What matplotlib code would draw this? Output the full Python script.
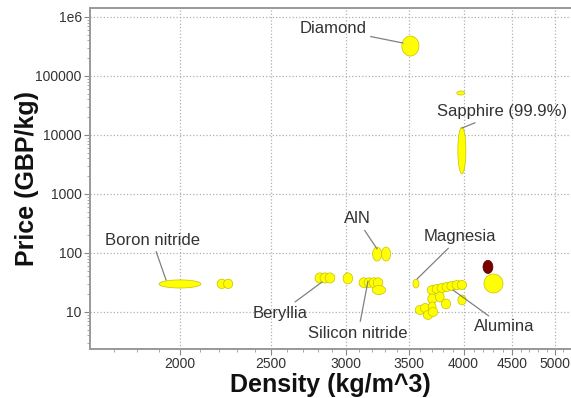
import numpy as np
import matplotlib
matplotlib.use("Agg")
import matplotlib.pyplot as plt
from matplotlib.ticker import FixedLocator, FuncFormatter, MultipleLocator, NullFormatter, LogLocator

plt.rcParams["font.family"] = ["Liberation Sans", "DejaVu Sans"]

# one record per material grade: density range (kg/m^3), price range (GBP/kg)
density_lo = [1900, 2190, 2225, 3203, 3273, 2782, 2817, 2852, 2980,
              3098, 3137, 3176, 3208, 3200, 3535, 4195, 4205,
              3440, 3935, 3945,
              3660, 3705, 3750, 3795, 3840, 3890, 3940, 3665, 3735,
              3790, 3945, 3555, 3600, 3670, 3625, 3670]
density_hi = [2105, 2240, 2275, 3274, 3346, 2850, 2885, 2920, 3050,
              3174, 3213, 3252, 3284, 3306, 3587, 4298, 4405,
              3587, 4013, 4023,
              3750, 3795, 3840, 3885, 3935, 3985, 4030, 3745, 3815,
              3875, 4025, 3640, 3685, 3740, 3710, 3755]
price_lo = [25.5, 25, 25, 73, 73, 31, 31, 31, 30,
            26, 26, 26, 26, 19.8, 25.5, 45, 21,
            218000, 47600, 2200,
            19.8, 20.6, 21.4, 22.3, 23.2, 24.1, 24.1, 13.7, 14.8,
            11.3, 13.2, 9.1, 9.8, 10.0, 7.5, 8.4]
price_hi = [35, 36, 36, 126, 126, 46, 46, 46, 46,
            38, 38, 38, 38, 28, 36, 75, 44,
            476000, 55700, 13600,
            28.1, 29.2, 30.4, 31.6, 32.9, 34.2, 34.2, 20.2, 21.9,
            16.6, 19.4, 12.9, 13.9, 14.8, 10.6, 11.9]
# records flagged as the selected material
selected = [False] * 15 + [True] + [False] * 20

# labels: (text, text position, point on bubble)
labels = [
    ("Diamond", (2907, 626000), (3450, 362000)),
    ("Sapphire (99.9%)", (4394, 24550), (3984, 13100)),
    ("Boron nitride", (1868, 166), (1933, 34.8)),
    ("AlN", (3083, 377), (3238, 117)),
    ("Magnesia", (3964, 187), (3570, 36.2)),
    ("Beryllia", (2554, 9.6), (2830, 32.2)),
    ("Silicon nitride", (3091, 4.4), (3167, 33.5)),
    ("Alumina", (4416, 5.57), (3898, 23.6)),
]


def bubble(ax, d0, d1, p0, p1, face, edge):
    # ellipse spanning the ranges in log-log space
    t = np.linspace(0, 2 * np.pi, 80)
    cx, rx = (np.log10(d0) + np.log10(d1)) / 2, (np.log10(d1) - np.log10(d0)) / 2
    cy, ry = (np.log10(p0) + np.log10(p1)) / 2, (np.log10(p1) - np.log10(p0)) / 2
    ax.fill(10 ** (cx + rx * np.cos(t)), 10 ** (cy + ry * np.sin(t)),
            facecolor=face, edgecolor=edge, linewidth=0.5, zorder=3)


fig = plt.figure(figsize=(5.71, 3.98), dpi=100)
ax = fig.add_axes([90 / 571, 1 - 349 / 398, 1 - 90 / 571, (349 - 8) / 398])
ax.set_xscale("log")
ax.set_yscale("log")

order = [i for i in range(len(selected)) if selected[i]] + [i for i in range(len(selected)) if not selected[i]]
for i in order:
    if selected[i]:
        bubble(ax, density_lo[i], density_hi[i], price_lo[i], price_hi[i], "#7a0000", "#5a0000")
    else:
        bubble(ax, density_lo[i], density_hi[i], price_lo[i], price_hi[i], "#ffff00", "#c8c000")

for text, xyt, xy in labels:
    ax.annotate(text, xy=xy, xytext=xyt, ha="center", va="center", fontsize=12,
                color="#333333", zorder=4,
                arrowprops=dict(arrowstyle="-", color="#808080", lw=0.9,
                                shrinkA=1, shrinkB=0))

ax.set_xlim(1605, 5202)
ax.set_ylim(2.36, 1.42e6)

xt = [2000, 2500, 3000, 3500, 4000, 4500, 5000]
ax.xaxis.set_major_locator(FixedLocator(xt))
ax.xaxis.set_major_formatter(FuncFormatter(lambda v, pos: "%d" % v))
ax.xaxis.set_minor_locator(MultipleLocator(100))
ax.xaxis.set_minor_formatter(NullFormatter())

yt = [10, 100, 1000, 10000, 100000, 1000000]
ax.yaxis.set_major_locator(FixedLocator(yt))
ax.yaxis.set_major_formatter(FuncFormatter(lambda v, pos: "1e6" if v >= 1e6 else "%d" % v))
ax.yaxis.set_minor_locator(LogLocator(base=10, subs=np.arange(2, 10)))
ax.yaxis.set_minor_formatter(NullFormatter())

ax.grid(True, which="major", linestyle=":", color="#b0b0b0", linewidth=0.9, zorder=0)
ax.set_axisbelow(True)
ax.tick_params(which="major", length=4, width=0.8, color="#888888",
               labelsize=10, labelcolor="#333333", pad=2)
ax.tick_params(which="minor", length=2, width=0.6, color="#999999")

for side in ("left", "bottom", "top"):
    ax.spines[side].set_color("#999999")
    ax.spines[side].set_linewidth(1.4)
ax.spines["right"].set_visible(False)

ax.set_xlabel("Density (kg/m^3)", fontsize=18, fontweight="bold", color="#111111")
ax.set_ylabel("Price (GBP/kg)", fontsize=18, fontweight="bold", color="#111111")
ax.xaxis.set_label_coords(0.5, -0.07)
ax.yaxis.set_label_coords(-0.106, 0.5)

fig.savefig("out.png", dpi=100, facecolor="white")
